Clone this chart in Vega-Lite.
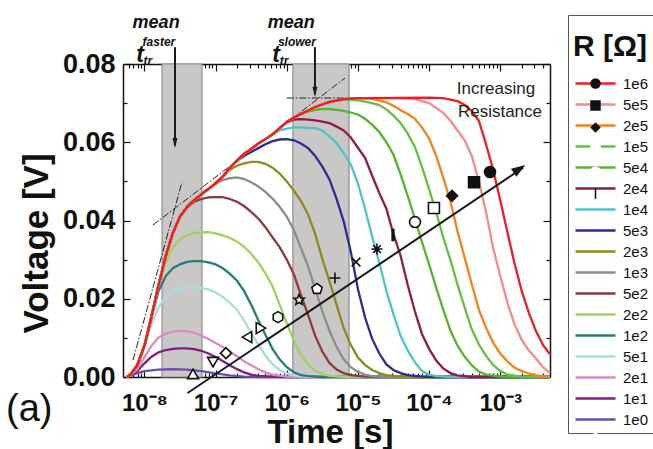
{
"$schema":"https://vega.github.io/schema/vega-lite/v6.json",
"width":427,"height":313,
"autosize":{"type":"none"},
"padding":{"left":123,"top":64,"right":103,"bottom":72},
"background":"white",
"config":{"view":{"stroke":null},"font":"Liberation Sans","axis":{"labelFont":"Liberation Sans","titleFont":"Liberation Sans"},"legend":{"labelFont":"Liberation Sans","titleFont":"Liberation Sans"}},
"title":{"text":"(a)","orient":"bottom","anchor":"start","frame":"group","font":"Liberation Sans","fontSize":38,"fontWeight":"normal","color":"#111","dx":-117,"dy":-58,"offset":0},
"datasets":{
"bands":[{"t0":1.77e-8,"t1":6.44e-8},{"t0":1.22e-6,"t1":7.5e-6}],
"tangents":[{"seg":"a","t":6.92e-9,"V":0.00435},{"seg":"a","t":3.37e-8,"V":0.0498},{"seg":"b","t":1.32e-8,"V":0.03885},{"seg":"b","t":6.58e-6,"V":0.0764},{"seg":"c","t":1.0e-6,"V":0.0713},{"seg":"c","t":7.45e-5,"V":0.0713}],
"curves":[
{"R":"1e0","t":5.62e-9,"V":0},{"R":"1e0","t":6.31e-9,"V":0.0004},{"R":"1e0","t":7.94e-9,"V":0.001},{"R":"1e0","t":1e-8,"V":0.0015},{"R":"1e0","t":1.58e-8,"V":0.0019},{"R":"1e0","t":2.51e-8,"V":0.002},{"R":"1e0","t":3.98e-8,"V":0.0019},{"R":"1e0","t":6.31e-8,"V":0.0015},{"R":"1e0","t":1e-7,"V":0.0009},{"R":"1e0","t":1.58e-7,"V":0.0004},{"R":"1e0","t":2.51e-7,"V":0.0001},{"R":"1e0","t":3.98e-7,"V":0},{"R":"1e0","t":5e-3,"V":0},
{"R":"1e1","t":5.62e-9,"V":0},{"R":"1e1","t":6.31e-9,"V":0.0003},{"R":"1e1","t":7.94e-9,"V":0.0015},{"R":"1e1","t":1e-8,"V":0.0035},{"R":"1e1","t":1.26e-8,"V":0.0052},{"R":"1e1","t":1.58e-8,"V":0.0063},{"R":"1e1","t":2e-8,"V":0.0069},{"R":"1e1","t":2.51e-8,"V":0.0072},{"R":"1e1","t":3.16e-8,"V":0.0073},{"R":"1e1","t":3.98e-8,"V":0.0073},{"R":"1e1","t":5.01e-8,"V":0.0071},{"R":"1e1","t":6.31e-8,"V":0.0067},{"R":"1e1","t":7.94e-8,"V":0.006},{"R":"1e1","t":1e-7,"V":0.0051},{"R":"1e1","t":1.26e-7,"V":0.0041},{"R":"1e1","t":1.58e-7,"V":0.003},{"R":"1e1","t":2e-7,"V":0.002},{"R":"1e1","t":2.51e-7,"V":0.0012},{"R":"1e1","t":3.16e-7,"V":0.0006},{"R":"1e1","t":3.98e-7,"V":0.0003},{"R":"1e1","t":6.31e-7,"V":0.0001},{"R":"1e1","t":1e-6,"V":0},{"R":"1e1","t":5e-3,"V":0},
{"R":"2e1","t":5.62e-9,"V":0},{"R":"2e1","t":6.31e-9,"V":0.0004},{"R":"2e1","t":7.94e-9,"V":0.002},{"R":"2e1","t":1e-8,"V":0.005},{"R":"2e1","t":1.26e-8,"V":0.008},{"R":"2e1","t":1.58e-8,"V":0.0101},{"R":"2e1","t":2e-8,"V":0.0111},{"R":"2e1","t":2.51e-8,"V":0.0116},{"R":"2e1","t":3.16e-8,"V":0.0118},{"R":"2e1","t":3.98e-8,"V":0.0117},{"R":"2e1","t":5.01e-8,"V":0.0113},{"R":"2e1","t":6.31e-8,"V":0.0106},{"R":"2e1","t":7.94e-8,"V":0.0097},{"R":"2e1","t":1e-7,"V":0.0087},{"R":"2e1","t":1.26e-7,"V":0.0077},{"R":"2e1","t":1.58e-7,"V":0.0065},{"R":"2e1","t":2e-7,"V":0.0053},{"R":"2e1","t":2.51e-7,"V":0.004},{"R":"2e1","t":3.16e-7,"V":0.003},{"R":"2e1","t":3.98e-7,"V":0.002},{"R":"2e1","t":5.01e-7,"V":0.0012},{"R":"2e1","t":6.31e-7,"V":0.0006},{"R":"2e1","t":1e-6,"V":0.0001},{"R":"2e1","t":1.58e-6,"V":0},{"R":"2e1","t":5e-3,"V":0},
{"R":"5e1","t":5.62e-9,"V":0},{"R":"5e1","t":6.31e-9,"V":0.0005},{"R":"5e1","t":7.94e-9,"V":0.003},{"R":"5e1","t":1e-8,"V":0.0078},{"R":"5e1","t":1.26e-8,"V":0.0135},{"R":"5e1","t":1.58e-8,"V":0.0178},{"R":"5e1","t":2e-8,"V":0.0204},{"R":"5e1","t":2.51e-8,"V":0.0218},{"R":"5e1","t":3.16e-8,"V":0.0225},{"R":"5e1","t":3.98e-8,"V":0.0229},{"R":"5e1","t":5.01e-8,"V":0.023},{"R":"5e1","t":6.31e-8,"V":0.0228},{"R":"5e1","t":7.94e-8,"V":0.0224},{"R":"5e1","t":1e-7,"V":0.0216},{"R":"5e1","t":1.26e-7,"V":0.0205},{"R":"5e1","t":1.58e-7,"V":0.019},{"R":"5e1","t":2e-7,"V":0.0172},{"R":"5e1","t":2.51e-7,"V":0.0145},{"R":"5e1","t":3.16e-7,"V":0.0112},{"R":"5e1","t":3.98e-7,"V":0.0083},{"R":"5e1","t":5.01e-7,"V":0.0055},{"R":"5e1","t":6.31e-7,"V":0.0033},{"R":"5e1","t":7.94e-7,"V":0.0018},{"R":"5e1","t":1e-6,"V":0.0009},{"R":"5e1","t":1.26e-6,"V":0.0004},{"R":"5e1","t":2e-6,"V":0},{"R":"5e1","t":5e-3,"V":0},
{"R":"1e2","t":5.62e-9,"V":0},{"R":"1e2","t":6.31e-9,"V":0.0005},{"R":"1e2","t":7.94e-9,"V":0.003},{"R":"1e2","t":1e-8,"V":0.008},{"R":"1e2","t":1.26e-8,"V":0.0155},{"R":"1e2","t":1.58e-8,"V":0.022},{"R":"1e2","t":2e-8,"V":0.0258},{"R":"1e2","t":2.51e-8,"V":0.0278},{"R":"1e2","t":3.16e-8,"V":0.0288},{"R":"1e2","t":3.98e-8,"V":0.0294},{"R":"1e2","t":5.01e-8,"V":0.0296},{"R":"1e2","t":6.31e-8,"V":0.0296},{"R":"1e2","t":7.94e-8,"V":0.0293},{"R":"1e2","t":1e-7,"V":0.0288},{"R":"1e2","t":1.26e-7,"V":0.0278},{"R":"1e2","t":1.58e-7,"V":0.0264},{"R":"1e2","t":2e-7,"V":0.0246},{"R":"1e2","t":2.51e-7,"V":0.022},{"R":"1e2","t":3.16e-7,"V":0.0185},{"R":"1e2","t":3.98e-7,"V":0.0145},{"R":"1e2","t":5.01e-7,"V":0.0108},{"R":"1e2","t":6.31e-7,"V":0.0072},{"R":"1e2","t":7.94e-7,"V":0.0045},{"R":"1e2","t":1e-6,"V":0.0025},{"R":"1e2","t":1.26e-6,"V":0.0012},{"R":"1e2","t":1.58e-6,"V":0.0005},{"R":"1e2","t":2e-6,"V":0.0002},{"R":"1e2","t":3.16e-6,"V":0},{"R":"1e2","t":5e-3,"V":0},
{"R":"2e2","t":5.62e-9,"V":0},{"R":"2e2","t":6.31e-9,"V":0.0005},{"R":"2e2","t":7.94e-9,"V":0.003},{"R":"2e2","t":1e-8,"V":0.008},{"R":"2e2","t":1.26e-8,"V":0.0155},{"R":"2e2","t":1.58e-8,"V":0.0235},{"R":"2e2","t":2e-8,"V":0.0295},{"R":"2e2","t":2.51e-8,"V":0.0332},{"R":"2e2","t":3.16e-8,"V":0.0352},{"R":"2e2","t":3.98e-8,"V":0.0363},{"R":"2e2","t":5.01e-8,"V":0.0368},{"R":"2e2","t":6.31e-8,"V":0.037},{"R":"2e2","t":7.94e-8,"V":0.037},{"R":"2e2","t":1e-7,"V":0.0367},{"R":"2e2","t":1.26e-7,"V":0.0362},{"R":"2e2","t":1.58e-7,"V":0.0356},{"R":"2e2","t":2e-7,"V":0.0346},{"R":"2e2","t":2.51e-7,"V":0.0333},{"R":"2e2","t":3.16e-7,"V":0.0315},{"R":"2e2","t":3.98e-7,"V":0.0293},{"R":"2e2","t":5.01e-7,"V":0.0265},{"R":"2e2","t":6.31e-7,"V":0.0232},{"R":"2e2","t":7.94e-7,"V":0.0185},{"R":"2e2","t":1e-6,"V":0.0138},{"R":"2e2","t":1.26e-6,"V":0.0093},{"R":"2e2","t":1.58e-6,"V":0.0057},{"R":"2e2","t":2e-6,"V":0.0032},{"R":"2e2","t":2.51e-6,"V":0.0016},{"R":"2e2","t":3.16e-6,"V":0.0008},{"R":"2e2","t":3.98e-6,"V":0.0003},{"R":"2e2","t":6.31e-6,"V":0},{"R":"2e2","t":5e-3,"V":0},
{"R":"5e2","t":5.62e-9,"V":0},{"R":"5e2","t":6.31e-9,"V":0.0005},{"R":"5e2","t":7.94e-9,"V":0.003},{"R":"5e2","t":1e-8,"V":0.008},{"R":"5e2","t":1.26e-8,"V":0.0155},{"R":"5e2","t":1.58e-8,"V":0.0235},{"R":"5e2","t":2e-8,"V":0.031},{"R":"5e2","t":2.51e-8,"V":0.0368},{"R":"5e2","t":3.16e-8,"V":0.041},{"R":"5e2","t":3.98e-8,"V":0.0433},{"R":"5e2","t":5.01e-8,"V":0.0448},{"R":"5e2","t":6.31e-8,"V":0.0455},{"R":"5e2","t":7.94e-8,"V":0.0459},{"R":"5e2","t":1e-7,"V":0.046},{"R":"5e2","t":1.26e-7,"V":0.046},{"R":"5e2","t":1.58e-7,"V":0.0455},{"R":"5e2","t":2e-7,"V":0.0448},{"R":"5e2","t":2.51e-7,"V":0.0437},{"R":"5e2","t":3.16e-7,"V":0.0422},{"R":"5e2","t":3.98e-7,"V":0.0405},{"R":"5e2","t":5.01e-7,"V":0.0383},{"R":"5e2","t":6.31e-7,"V":0.0357},{"R":"5e2","t":7.94e-7,"V":0.0332},{"R":"5e2","t":1e-6,"V":0.03},{"R":"5e2","t":1.26e-6,"V":0.0262},{"R":"5e2","t":1.58e-6,"V":0.021},{"R":"5e2","t":2e-6,"V":0.0158},{"R":"5e2","t":2.51e-6,"V":0.0105},{"R":"5e2","t":3.16e-6,"V":0.0065},{"R":"5e2","t":3.98e-6,"V":0.0036},{"R":"5e2","t":5.01e-6,"V":0.0019},{"R":"5e2","t":6.31e-6,"V":0.001},{"R":"5e2","t":7.94e-6,"V":0.0005},{"R":"5e2","t":1.26e-5,"V":0.0001},{"R":"5e2","t":2e-5,"V":0},{"R":"5e2","t":5e-3,"V":0},
{"R":"1e3","t":5.62e-9,"V":0},{"R":"1e3","t":6.31e-9,"V":0.0005},{"R":"1e3","t":7.94e-9,"V":0.003},{"R":"1e3","t":1e-8,"V":0.008},{"R":"1e3","t":1.26e-8,"V":0.0155},{"R":"1e3","t":1.58e-8,"V":0.0235},{"R":"1e3","t":2e-8,"V":0.031},{"R":"1e3","t":2.51e-8,"V":0.0368},{"R":"1e3","t":3.16e-8,"V":0.041},{"R":"1e3","t":3.98e-8,"V":0.0435},{"R":"1e3","t":5.01e-8,"V":0.0452},{"R":"1e3","t":6.31e-8,"V":0.0467},{"R":"1e3","t":7.94e-8,"V":0.0481},{"R":"1e3","t":1e-7,"V":0.0495},{"R":"1e3","t":1.26e-7,"V":0.0503},{"R":"1e3","t":1.58e-7,"V":0.0508},{"R":"1e3","t":2e-7,"V":0.051},{"R":"1e3","t":2.51e-7,"V":0.0506},{"R":"1e3","t":3.16e-7,"V":0.0498},{"R":"1e3","t":3.98e-7,"V":0.0487},{"R":"1e3","t":5.01e-7,"V":0.0473},{"R":"1e3","t":6.31e-7,"V":0.0456},{"R":"1e3","t":7.94e-7,"V":0.0435},{"R":"1e3","t":1e-6,"V":0.041},{"R":"1e3","t":1.26e-6,"V":0.0375},{"R":"1e3","t":1.58e-6,"V":0.033},{"R":"1e3","t":2e-6,"V":0.0282},{"R":"1e3","t":2.51e-6,"V":0.0225},{"R":"1e3","t":3.16e-6,"V":0.0168},{"R":"1e3","t":3.98e-6,"V":0.0118},{"R":"1e3","t":5.01e-6,"V":0.0077},{"R":"1e3","t":6.31e-6,"V":0.0045},{"R":"1e3","t":7.94e-6,"V":0.0025},{"R":"1e3","t":1e-5,"V":0.0013},{"R":"1e3","t":1.26e-5,"V":0.0006},{"R":"1e3","t":1.58e-5,"V":0.0002},{"R":"1e3","t":2.51e-5,"V":0},{"R":"1e3","t":5e-3,"V":0},
{"R":"2e3","t":5.62e-9,"V":0},{"R":"2e3","t":6.31e-9,"V":0.0005},{"R":"2e3","t":7.94e-9,"V":0.003},{"R":"2e3","t":1e-8,"V":0.008},{"R":"2e3","t":1.26e-8,"V":0.0155},{"R":"2e3","t":1.58e-8,"V":0.0235},{"R":"2e3","t":2e-8,"V":0.031},{"R":"2e3","t":2.51e-8,"V":0.0368},{"R":"2e3","t":3.16e-8,"V":0.041},{"R":"2e3","t":3.98e-8,"V":0.0435},{"R":"2e3","t":5.01e-8,"V":0.0452},{"R":"2e3","t":6.31e-8,"V":0.0467},{"R":"2e3","t":7.94e-8,"V":0.0481},{"R":"2e3","t":1e-7,"V":0.0495},{"R":"2e3","t":1.26e-7,"V":0.0512},{"R":"2e3","t":1.58e-7,"V":0.053},{"R":"2e3","t":2e-7,"V":0.054},{"R":"2e3","t":2.51e-7,"V":0.0546},{"R":"2e3","t":3.16e-7,"V":0.055},{"R":"2e3","t":3.98e-7,"V":0.055},{"R":"2e3","t":5.01e-7,"V":0.0545},{"R":"2e3","t":6.31e-7,"V":0.0535},{"R":"2e3","t":7.94e-7,"V":0.052},{"R":"2e3","t":1e-6,"V":0.05},{"R":"2e3","t":1.26e-6,"V":0.0476},{"R":"2e3","t":1.58e-6,"V":0.045},{"R":"2e3","t":2e-6,"V":0.0415},{"R":"2e3","t":2.51e-6,"V":0.0365},{"R":"2e3","t":3.16e-6,"V":0.0302},{"R":"2e3","t":3.98e-6,"V":0.0245},{"R":"2e3","t":5.01e-6,"V":0.0185},{"R":"2e3","t":6.31e-6,"V":0.0125},{"R":"2e3","t":7.94e-6,"V":0.0082},{"R":"2e3","t":1e-5,"V":0.005},{"R":"2e3","t":1.26e-5,"V":0.0031},{"R":"2e3","t":1.58e-5,"V":0.0018},{"R":"2e3","t":2e-5,"V":0.001},{"R":"2e3","t":2.51e-5,"V":0.0005},{"R":"2e3","t":3.98e-5,"V":0.0001},{"R":"2e3","t":6.31e-5,"V":0},{"R":"2e3","t":5e-3,"V":0},
{"R":"5e3","t":5.62e-9,"V":0},{"R":"5e3","t":6.31e-9,"V":0.0005},{"R":"5e3","t":7.94e-9,"V":0.003},{"R":"5e3","t":1e-8,"V":0.008},{"R":"5e3","t":1.26e-8,"V":0.0155},{"R":"5e3","t":1.58e-8,"V":0.0235},{"R":"5e3","t":2e-8,"V":0.031},{"R":"5e3","t":2.51e-8,"V":0.0368},{"R":"5e3","t":3.16e-8,"V":0.041},{"R":"5e3","t":3.98e-8,"V":0.0435},{"R":"5e3","t":5.01e-8,"V":0.0452},{"R":"5e3","t":6.31e-8,"V":0.0467},{"R":"5e3","t":7.94e-8,"V":0.0481},{"R":"5e3","t":1e-7,"V":0.0495},{"R":"5e3","t":1.26e-7,"V":0.0512},{"R":"5e3","t":1.58e-7,"V":0.0535},{"R":"5e3","t":2e-7,"V":0.0553},{"R":"5e3","t":2.51e-7,"V":0.0565},{"R":"5e3","t":3.16e-7,"V":0.0575},{"R":"5e3","t":3.98e-7,"V":0.0585},{"R":"5e3","t":5.01e-7,"V":0.0595},{"R":"5e3","t":6.31e-7,"V":0.0603},{"R":"5e3","t":7.94e-7,"V":0.0607},{"R":"5e3","t":1e-6,"V":0.0608},{"R":"5e3","t":1.26e-6,"V":0.0605},{"R":"5e3","t":1.58e-6,"V":0.0597},{"R":"5e3","t":2e-6,"V":0.0585},{"R":"5e3","t":2.51e-6,"V":0.0565},{"R":"5e3","t":3.16e-6,"V":0.0538},{"R":"5e3","t":3.98e-6,"V":0.0505},{"R":"5e3","t":5.01e-6,"V":0.0455},{"R":"5e3","t":6.31e-6,"V":0.0398},{"R":"5e3","t":7.94e-6,"V":0.032},{"R":"5e3","t":1e-5,"V":0.0225},{"R":"5e3","t":1.26e-5,"V":0.0152},{"R":"5e3","t":1.58e-5,"V":0.0098},{"R":"5e3","t":2e-5,"V":0.006},{"R":"5e3","t":2.51e-5,"V":0.0032},{"R":"5e3","t":3.16e-5,"V":0.0018},{"R":"5e3","t":3.98e-5,"V":0.001},{"R":"5e3","t":5.01e-5,"V":0.0005},{"R":"5e3","t":7.94e-5,"V":0.0001},{"R":"5e3","t":1.26e-4,"V":0},{"R":"5e3","t":5e-3,"V":0},
{"R":"1e4","t":5.62e-9,"V":0},{"R":"1e4","t":6.31e-9,"V":0.0005},{"R":"1e4","t":7.94e-9,"V":0.003},{"R":"1e4","t":1e-8,"V":0.008},{"R":"1e4","t":1.26e-8,"V":0.0155},{"R":"1e4","t":1.58e-8,"V":0.0235},{"R":"1e4","t":2e-8,"V":0.031},{"R":"1e4","t":2.51e-8,"V":0.0368},{"R":"1e4","t":3.16e-8,"V":0.041},{"R":"1e4","t":3.98e-8,"V":0.0435},{"R":"1e4","t":5.01e-8,"V":0.0452},{"R":"1e4","t":6.31e-8,"V":0.0467},{"R":"1e4","t":7.94e-8,"V":0.0481},{"R":"1e4","t":1e-7,"V":0.0495},{"R":"1e4","t":1.26e-7,"V":0.0512},{"R":"1e4","t":1.58e-7,"V":0.0535},{"R":"1e4","t":2e-7,"V":0.0553},{"R":"1e4","t":2.51e-7,"V":0.057},{"R":"1e4","t":3.16e-7,"V":0.0583},{"R":"1e4","t":3.98e-7,"V":0.0597},{"R":"1e4","t":5.01e-7,"V":0.0608},{"R":"1e4","t":6.31e-7,"V":0.062},{"R":"1e4","t":7.94e-7,"V":0.063},{"R":"1e4","t":1e-6,"V":0.0635},{"R":"1e4","t":1.26e-6,"V":0.0638},{"R":"1e4","t":1.58e-6,"V":0.0638},{"R":"1e4","t":2e-6,"V":0.0637},{"R":"1e4","t":2.51e-6,"V":0.0636},{"R":"1e4","t":3.16e-6,"V":0.063},{"R":"1e4","t":3.98e-6,"V":0.0615},{"R":"1e4","t":5.01e-6,"V":0.0598},{"R":"1e4","t":6.31e-6,"V":0.0572},{"R":"1e4","t":7.94e-6,"V":0.0543},{"R":"1e4","t":1e-5,"V":0.0495},{"R":"1e4","t":1.26e-5,"V":0.043},{"R":"1e4","t":1.58e-5,"V":0.036},{"R":"1e4","t":2e-5,"V":0.0292},{"R":"1e4","t":2.51e-5,"V":0.022},{"R":"1e4","t":3.16e-5,"V":0.016},{"R":"1e4","t":3.98e-5,"V":0.0105},{"R":"1e4","t":5.01e-5,"V":0.0068},{"R":"1e4","t":6.31e-5,"V":0.0038},{"R":"1e4","t":7.94e-5,"V":0.0015},{"R":"1e4","t":1e-4,"V":0.0006},{"R":"1e4","t":1.26e-4,"V":0.0002},{"R":"1e4","t":2e-4,"V":0},{"R":"1e4","t":5e-3,"V":0},
{"R":"2e4","t":5.62e-9,"V":0},{"R":"2e4","t":6.31e-9,"V":0.0005},{"R":"2e4","t":7.94e-9,"V":0.003},{"R":"2e4","t":1e-8,"V":0.008},{"R":"2e4","t":1.26e-8,"V":0.0155},{"R":"2e4","t":1.58e-8,"V":0.0235},{"R":"2e4","t":2e-8,"V":0.031},{"R":"2e4","t":2.51e-8,"V":0.0368},{"R":"2e4","t":3.16e-8,"V":0.041},{"R":"2e4","t":3.98e-8,"V":0.0435},{"R":"2e4","t":5.01e-8,"V":0.0452},{"R":"2e4","t":6.31e-8,"V":0.0467},{"R":"2e4","t":7.94e-8,"V":0.0481},{"R":"2e4","t":1e-7,"V":0.0495},{"R":"2e4","t":1.26e-7,"V":0.0512},{"R":"2e4","t":1.58e-7,"V":0.0535},{"R":"2e4","t":2e-7,"V":0.0553},{"R":"2e4","t":2.51e-7,"V":0.057},{"R":"2e4","t":3.16e-7,"V":0.0583},{"R":"2e4","t":3.98e-7,"V":0.0597},{"R":"2e4","t":5.01e-7,"V":0.0608},{"R":"2e4","t":6.31e-7,"V":0.062},{"R":"2e4","t":7.94e-7,"V":0.0636},{"R":"2e4","t":1e-6,"V":0.065},{"R":"2e4","t":1.26e-6,"V":0.0658},{"R":"2e4","t":1.58e-6,"V":0.0659},{"R":"2e4","t":2e-6,"V":0.0658},{"R":"2e4","t":2.51e-6,"V":0.0656},{"R":"2e4","t":3.16e-6,"V":0.0653},{"R":"2e4","t":3.98e-6,"V":0.0649},{"R":"2e4","t":5.01e-6,"V":0.064},{"R":"2e4","t":6.31e-6,"V":0.063},{"R":"2e4","t":7.94e-6,"V":0.0612},{"R":"2e4","t":1e-5,"V":0.0586},{"R":"2e4","t":1.26e-5,"V":0.056},{"R":"2e4","t":1.58e-5,"V":0.0515},{"R":"2e4","t":2e-5,"V":0.047},{"R":"2e4","t":2.51e-5,"V":0.043},{"R":"2e4","t":3.16e-5,"V":0.0365},{"R":"2e4","t":3.98e-5,"V":0.031},{"R":"2e4","t":5.01e-5,"V":0.0235},{"R":"2e4","t":6.31e-5,"V":0.0168},{"R":"2e4","t":7.94e-5,"V":0.011},{"R":"2e4","t":1e-4,"V":0.0072},{"R":"2e4","t":1.26e-4,"V":0.0042},{"R":"2e4","t":1.58e-4,"V":0.0022},{"R":"2e4","t":2e-4,"V":0.001},{"R":"2e4","t":2.51e-4,"V":0.0004},{"R":"2e4","t":3.98e-4,"V":0},{"R":"2e4","t":5e-3,"V":0},
{"R":"5e4","t":5.62e-9,"V":0},{"R":"5e4","t":6.31e-9,"V":0.0005},{"R":"5e4","t":7.94e-9,"V":0.003},{"R":"5e4","t":1e-8,"V":0.008},{"R":"5e4","t":1.26e-8,"V":0.0155},{"R":"5e4","t":1.58e-8,"V":0.0235},{"R":"5e4","t":2e-8,"V":0.031},{"R":"5e4","t":2.51e-8,"V":0.0368},{"R":"5e4","t":3.16e-8,"V":0.041},{"R":"5e4","t":3.98e-8,"V":0.0435},{"R":"5e4","t":5.01e-8,"V":0.0452},{"R":"5e4","t":6.31e-8,"V":0.0467},{"R":"5e4","t":7.94e-8,"V":0.0481},{"R":"5e4","t":1e-7,"V":0.0495},{"R":"5e4","t":1.26e-7,"V":0.0512},{"R":"5e4","t":1.58e-7,"V":0.0535},{"R":"5e4","t":2e-7,"V":0.0553},{"R":"5e4","t":2.51e-7,"V":0.057},{"R":"5e4","t":3.16e-7,"V":0.0583},{"R":"5e4","t":3.98e-7,"V":0.0597},{"R":"5e4","t":5.01e-7,"V":0.0608},{"R":"5e4","t":6.31e-7,"V":0.062},{"R":"5e4","t":7.94e-7,"V":0.0636},{"R":"5e4","t":1e-6,"V":0.0652},{"R":"5e4","t":1.26e-6,"V":0.0663},{"R":"5e4","t":1.58e-6,"V":0.0672},{"R":"5e4","t":2e-6,"V":0.0678},{"R":"5e4","t":2.51e-6,"V":0.0683},{"R":"5e4","t":3.16e-6,"V":0.0685},{"R":"5e4","t":3.98e-6,"V":0.0685},{"R":"5e4","t":5.01e-6,"V":0.0683},{"R":"5e4","t":6.31e-6,"V":0.068},{"R":"5e4","t":7.94e-6,"V":0.0676},{"R":"5e4","t":1e-5,"V":0.0671},{"R":"5e4","t":1.26e-5,"V":0.066},{"R":"5e4","t":1.58e-5,"V":0.0645},{"R":"5e4","t":2e-5,"V":0.0626},{"R":"5e4","t":2.51e-5,"V":0.06},{"R":"5e4","t":3.16e-5,"V":0.0568},{"R":"5e4","t":3.98e-5,"V":0.0518},{"R":"5e4","t":5.01e-5,"V":0.0463},{"R":"5e4","t":6.31e-5,"V":0.0405},{"R":"5e4","t":7.94e-5,"V":0.0345},{"R":"5e4","t":1e-4,"V":0.0288},{"R":"5e4","t":1.26e-4,"V":0.0228},{"R":"5e4","t":1.58e-4,"V":0.0172},{"R":"5e4","t":2e-4,"V":0.0118},{"R":"5e4","t":2.51e-4,"V":0.008},{"R":"5e4","t":3.16e-4,"V":0.0052},{"R":"5e4","t":3.98e-4,"V":0.003},{"R":"5e4","t":5.01e-4,"V":0.0014},{"R":"5e4","t":6.31e-4,"V":0.0006},{"R":"5e4","t":1e-3,"V":0.0001},{"R":"5e4","t":1.58e-3,"V":0},{"R":"5e4","t":5e-3,"V":0},
{"R":"1e5","t":5.62e-9,"V":0},{"R":"1e5","t":6.31e-9,"V":0.0005},{"R":"1e5","t":7.94e-9,"V":0.003},{"R":"1e5","t":1e-8,"V":0.008},{"R":"1e5","t":1.26e-8,"V":0.0155},{"R":"1e5","t":1.58e-8,"V":0.0235},{"R":"1e5","t":2e-8,"V":0.031},{"R":"1e5","t":2.51e-8,"V":0.0368},{"R":"1e5","t":3.16e-8,"V":0.041},{"R":"1e5","t":3.98e-8,"V":0.0435},{"R":"1e5","t":5.01e-8,"V":0.0452},{"R":"1e5","t":6.31e-8,"V":0.0467},{"R":"1e5","t":7.94e-8,"V":0.0481},{"R":"1e5","t":1e-7,"V":0.0495},{"R":"1e5","t":1.26e-7,"V":0.0512},{"R":"1e5","t":1.58e-7,"V":0.0535},{"R":"1e5","t":2e-7,"V":0.0553},{"R":"1e5","t":2.51e-7,"V":0.057},{"R":"1e5","t":3.16e-7,"V":0.0583},{"R":"1e5","t":3.98e-7,"V":0.0597},{"R":"1e5","t":5.01e-7,"V":0.0608},{"R":"1e5","t":6.31e-7,"V":0.062},{"R":"1e5","t":7.94e-7,"V":0.0636},{"R":"1e5","t":1e-6,"V":0.0652},{"R":"1e5","t":1.26e-6,"V":0.0663},{"R":"1e5","t":1.58e-6,"V":0.0672},{"R":"1e5","t":2.51e-6,"V":0.069},{"R":"1e5","t":3.98e-6,"V":0.0703},{"R":"1e5","t":6.31e-6,"V":0.0709},{"R":"1e5","t":1e-5,"V":0.0707},{"R":"1e5","t":1.26e-5,"V":0.0704},{"R":"1e5","t":1.58e-5,"V":0.07},{"R":"1e5","t":2e-5,"V":0.0695},{"R":"1e5","t":2.51e-5,"V":0.0684},{"R":"1e5","t":3.16e-5,"V":0.0668},{"R":"1e5","t":3.98e-5,"V":0.0649},{"R":"1e5","t":5.01e-5,"V":0.0622},{"R":"1e5","t":6.31e-5,"V":0.0588},{"R":"1e5","t":7.94e-5,"V":0.0537},{"R":"1e5","t":1e-4,"V":0.048},{"R":"1e5","t":1.26e-4,"V":0.042},{"R":"1e5","t":1.58e-4,"V":0.0357},{"R":"1e5","t":2e-4,"V":0.0298},{"R":"1e5","t":2.51e-4,"V":0.0236},{"R":"1e5","t":3.16e-4,"V":0.0178},{"R":"1e5","t":3.98e-4,"V":0.0122},{"R":"1e5","t":5.01e-4,"V":0.0083},{"R":"1e5","t":6.31e-4,"V":0.0054},{"R":"1e5","t":7.94e-4,"V":0.0031},{"R":"1e5","t":1e-3,"V":0.0015},{"R":"1e5","t":1.26e-3,"V":0.0006},{"R":"1e5","t":2e-3,"V":0.0001},{"R":"1e5","t":3.16e-3,"V":0},{"R":"1e5","t":5e-3,"V":0},
{"R":"2e5","t":5.62e-9,"V":0},{"R":"2e5","t":6.31e-9,"V":0.0005},{"R":"2e5","t":7.94e-9,"V":0.003},{"R":"2e5","t":1e-8,"V":0.008},{"R":"2e5","t":1.26e-8,"V":0.0155},{"R":"2e5","t":1.58e-8,"V":0.0235},{"R":"2e5","t":2e-8,"V":0.031},{"R":"2e5","t":2.51e-8,"V":0.0368},{"R":"2e5","t":3.16e-8,"V":0.041},{"R":"2e5","t":3.98e-8,"V":0.0435},{"R":"2e5","t":5.01e-8,"V":0.0452},{"R":"2e5","t":6.31e-8,"V":0.0467},{"R":"2e5","t":7.94e-8,"V":0.0481},{"R":"2e5","t":1e-7,"V":0.0495},{"R":"2e5","t":1.26e-7,"V":0.0512},{"R":"2e5","t":1.58e-7,"V":0.0535},{"R":"2e5","t":2e-7,"V":0.0553},{"R":"2e5","t":2.51e-7,"V":0.057},{"R":"2e5","t":3.16e-7,"V":0.0583},{"R":"2e5","t":3.98e-7,"V":0.0597},{"R":"2e5","t":5.01e-7,"V":0.0608},{"R":"2e5","t":6.31e-7,"V":0.062},{"R":"2e5","t":7.94e-7,"V":0.0636},{"R":"2e5","t":1e-6,"V":0.0652},{"R":"2e5","t":1.26e-6,"V":0.0663},{"R":"2e5","t":1.58e-6,"V":0.0672},{"R":"2e5","t":2.51e-6,"V":0.069},{"R":"2e5","t":3.98e-6,"V":0.0703},{"R":"2e5","t":6.31e-6,"V":0.071},{"R":"2e5","t":1e-5,"V":0.0713},{"R":"2e5","t":1.58e-5,"V":0.0711},{"R":"2e5","t":2.51e-5,"V":0.0702},{"R":"2e5","t":3.16e-5,"V":0.0693},{"R":"2e5","t":3.98e-5,"V":0.0682},{"R":"2e5","t":5.01e-5,"V":0.0672},{"R":"2e5","t":6.31e-5,"V":0.066},{"R":"2e5","t":7.94e-5,"V":0.0638},{"R":"2e5","t":1e-4,"V":0.061},{"R":"2e5","t":1.26e-4,"V":0.0565},{"R":"2e5","t":1.58e-4,"V":0.051},{"R":"2e5","t":2e-4,"V":0.0448},{"R":"2e5","t":2.51e-4,"V":0.0372},{"R":"2e5","t":3.16e-4,"V":0.0305},{"R":"2e5","t":3.98e-4,"V":0.0237},{"R":"2e5","t":5.01e-4,"V":0.0172},{"R":"2e5","t":6.31e-4,"V":0.0126},{"R":"2e5","t":7.94e-4,"V":0.0088},{"R":"2e5","t":1e-3,"V":0.006},{"R":"2e5","t":1.26e-3,"V":0.004},{"R":"2e5","t":1.58e-3,"V":0.0024},{"R":"2e5","t":2e-3,"V":0.0015},{"R":"2e5","t":2.51e-3,"V":0.0009},{"R":"2e5","t":3.16e-3,"V":0.0004},{"R":"2e5","t":5e-3,"V":0.0001},
{"R":"5e5","t":5.62e-9,"V":0},{"R":"5e5","t":6.31e-9,"V":0.0005},{"R":"5e5","t":7.94e-9,"V":0.003},{"R":"5e5","t":1e-8,"V":0.008},{"R":"5e5","t":1.26e-8,"V":0.0155},{"R":"5e5","t":1.58e-8,"V":0.0235},{"R":"5e5","t":2e-8,"V":0.031},{"R":"5e5","t":2.51e-8,"V":0.0368},{"R":"5e5","t":3.16e-8,"V":0.041},{"R":"5e5","t":3.98e-8,"V":0.0435},{"R":"5e5","t":5.01e-8,"V":0.0452},{"R":"5e5","t":6.31e-8,"V":0.0467},{"R":"5e5","t":7.94e-8,"V":0.0481},{"R":"5e5","t":1e-7,"V":0.0495},{"R":"5e5","t":1.26e-7,"V":0.0512},{"R":"5e5","t":1.58e-7,"V":0.0535},{"R":"5e5","t":2e-7,"V":0.0553},{"R":"5e5","t":2.51e-7,"V":0.057},{"R":"5e5","t":3.16e-7,"V":0.0583},{"R":"5e5","t":3.98e-7,"V":0.0597},{"R":"5e5","t":5.01e-7,"V":0.0608},{"R":"5e5","t":6.31e-7,"V":0.062},{"R":"5e5","t":7.94e-7,"V":0.0636},{"R":"5e5","t":1e-6,"V":0.0652},{"R":"5e5","t":1.26e-6,"V":0.0663},{"R":"5e5","t":1.58e-6,"V":0.0672},{"R":"5e5","t":2.51e-6,"V":0.069},{"R":"5e5","t":3.98e-6,"V":0.0703},{"R":"5e5","t":6.31e-6,"V":0.071},{"R":"5e5","t":1e-5,"V":0.0713},{"R":"5e5","t":3.16e-5,"V":0.0713},{"R":"5e5","t":6.31e-5,"V":0.071},{"R":"5e5","t":1e-4,"V":0.07},{"R":"5e5","t":1.58e-4,"V":0.0675},{"R":"5e5","t":2e-4,"V":0.0655},{"R":"5e5","t":2.51e-4,"V":0.063},{"R":"5e5","t":3.16e-4,"V":0.0605},{"R":"5e5","t":3.98e-4,"V":0.0565},{"R":"5e5","t":5.01e-4,"V":0.05},{"R":"5e5","t":6.31e-4,"V":0.0422},{"R":"5e5","t":7.94e-4,"V":0.033},{"R":"5e5","t":1e-3,"V":0.0258},{"R":"5e5","t":1.26e-3,"V":0.019},{"R":"5e5","t":1.58e-3,"V":0.0135},{"R":"5e5","t":2e-3,"V":0.0095},{"R":"5e5","t":2.51e-3,"V":0.0068},{"R":"5e5","t":3.16e-3,"V":0.0048},{"R":"5e5","t":3.98e-3,"V":0.0025},{"R":"5e5","t":5e-3,"V":0.001},
{"R":"1e6","t":5.62e-9,"V":0},{"R":"1e6","t":6.31e-9,"V":0.0005},{"R":"1e6","t":7.94e-9,"V":0.003},{"R":"1e6","t":1e-8,"V":0.008},{"R":"1e6","t":1.26e-8,"V":0.0155},{"R":"1e6","t":1.58e-8,"V":0.0235},{"R":"1e6","t":2e-8,"V":0.031},{"R":"1e6","t":2.51e-8,"V":0.0368},{"R":"1e6","t":3.16e-8,"V":0.041},{"R":"1e6","t":3.98e-8,"V":0.0435},{"R":"1e6","t":5.01e-8,"V":0.0452},{"R":"1e6","t":6.31e-8,"V":0.0467},{"R":"1e6","t":7.94e-8,"V":0.0481},{"R":"1e6","t":1e-7,"V":0.0495},{"R":"1e6","t":1.26e-7,"V":0.0512},{"R":"1e6","t":1.58e-7,"V":0.0535},{"R":"1e6","t":2e-7,"V":0.0553},{"R":"1e6","t":2.51e-7,"V":0.057},{"R":"1e6","t":3.16e-7,"V":0.0583},{"R":"1e6","t":3.98e-7,"V":0.0597},{"R":"1e6","t":5.01e-7,"V":0.0608},{"R":"1e6","t":6.31e-7,"V":0.062},{"R":"1e6","t":7.94e-7,"V":0.0636},{"R":"1e6","t":1e-6,"V":0.0652},{"R":"1e6","t":1.26e-6,"V":0.0663},{"R":"1e6","t":1.58e-6,"V":0.0672},{"R":"1e6","t":2.51e-6,"V":0.069},{"R":"1e6","t":3.98e-6,"V":0.0703},{"R":"1e6","t":6.31e-6,"V":0.071},{"R":"1e6","t":1e-5,"V":0.0713},{"R":"1e6","t":1e-4,"V":0.0714},{"R":"1e6","t":1.58e-4,"V":0.0713},{"R":"1e6","t":2.51e-4,"V":0.0705},{"R":"1e6","t":3.16e-4,"V":0.0695},{"R":"1e6","t":3.98e-4,"V":0.068},{"R":"1e6","t":5.01e-4,"V":0.0655},{"R":"1e6","t":6.31e-4,"V":0.0595},{"R":"1e6","t":7.94e-4,"V":0.053},{"R":"1e6","t":1e-3,"V":0.0452},{"R":"1e6","t":1.26e-3,"V":0.037},{"R":"1e6","t":1.58e-3,"V":0.0292},{"R":"1e6","t":2e-3,"V":0.022},{"R":"1e6","t":2.51e-3,"V":0.0165},{"R":"1e6","t":3.16e-3,"V":0.0118},{"R":"1e6","t":3.98e-3,"V":0.0082},{"R":"1e6","t":5e-3,"V":0.0058}
],
"markers":[{"R":"1e6","t":7.18e-4,"V":0.0524},{"R":"5e5","t":4.28e-4,"V":0.0498},{"R":"2e5","t":2.1e-4,"V":0.0463},{"R":"1e5","t":1.17e-4,"V":0.0432},{"R":"5e4","t":6.34e-5,"V":0.0396},{"R":"2e4","t":3.11e-5,"V":0.0363},{"R":"1e4","t":1.85e-5,"V":0.0327},{"R":"5e3","t":9.4e-6,"V":0.0294},{"R":"2e3","t":4.76e-6,"V":0.0253},{"R":"1e3","t":2.66e-6,"V":0.0225},{"R":"5e2","t":1.49e-6,"V":0.0197},{"R":"2e2","t":7.53e-7,"V":0.0153},{"R":"1e2","t":4.34e-7,"V":0.0125},{"R":"5e1","t":2.76e-7,"V":0.0102},{"R":"2e1","t":1.4e-7,"V":0.0061},{"R":"1e1","t":9.2e-8,"V":0.0038},{"R":"1e0","t":4.82e-8,"V":0.0008}],
"arrows":[{"id":"a1","t":2.69e-8,"V":0.0843},{"id":"a1","t":2.69e-8,"V":0.0592},{"id":"a2","t":2.49e-6,"V":0.0843},{"id":"a2","t":2.49e-6,"V":0.0722},{"id":"d","t":4.04e-8,"V":-0.0041},{"id":"d","t":2.1e-3,"V":0.0535}],
"headsV":[{"t":2.69e-8,"V":0.0585},{"t":2.49e-6,"V":0.0716}],
"headD":[{"t":2.25e-3,"V":0.0542}],
"mean":[{"s":"mean","t":1.46e-8,"V":0.0892},{"s":"mean","t":1.16e-6,"V":0.0892}],
"tt":[{"s":"t","t":8.67e-9,"V":0.0806},{"s":"t","t":7.06e-7,"V":0.0806}],
"small":[{"s":"tr","t":1.12e-8,"V":0.0797},{"s":"faster","t":1.6e-8,"V":0.0846},{"s":"tr","t":9.14e-7,"V":0.0797},{"s":"slower","t":1.39e-6,"V":0.0846}],
"note":[{"s":"Increasing","t":8.7e-4,"V":0.0723},{"s":"Resistance","t":9.9e-4,"V":0.0665}]
},
"layer":[
{"data":{"name":"bands"},"mark":{"type":"rect","fill":"#cac7c7","stroke":"#8d8d8d","strokeWidth":1.2},
 "encoding":{"x":{"field":"t0","type":"quantitative","scale":{"type":"log","domain":[5e-9,5e-3],"nice":false},"axis":null},"x2":{"field":"t1"}}},
{"data":{"name":"tangents"},"mark":{"type":"line","stroke":"#222","strokeWidth":1,"strokeDash":[7,2,1.5,2]},
 "encoding":{
  "x":{"field":"t","type":"quantitative","scale":{"type":"log","domain":[5e-9,5e-3],"nice":false},
   "axis":{"orient":"top","values":[6e-9,7e-9,8e-9,9e-9,1e-8,2e-8,3e-8,4e-8,5e-8,6e-8,7e-8,8e-8,9e-8,1e-7,2e-7,3e-7,4e-7,5e-7,6e-7,7e-7,8e-7,9e-7,1e-6,2e-6,3e-6,4e-6,5e-6,6e-6,7e-6,8e-6,9e-6,1e-5,2e-5,3e-5,4e-5,5e-5,6e-5,7e-5,8e-5,9e-5,1e-4,2e-4,3e-4,4e-4,5e-4,6e-4,7e-4,8e-4,9e-4,1e-3,2e-3,3e-3,4e-3],
    "labels":false,"title":null,"grid":false,"domainColor":"#111","domainWidth":1.5,"tickColor":"#111","tickWidth":1.2,
    "tickSize":{"condition":{"test":"abs(log(datum.value)/LN10 - round(log(datum.value)/LN10)) < 0.01","value":-7},"value":-4}}},
  "y":{"field":"V","type":"quantitative","scale":{"domain":[0,0.08],"nice":false},
   "axis":{"orient":"right","values":[0,0.01,0.02,0.03,0.04,0.05,0.06,0.07,0.08],"labels":false,"title":null,"grid":false,"domainColor":"#111","domainWidth":1.5,"tickColor":"#111","tickWidth":1.2,
    "tickSize":{"condition":{"test":"round(datum.value*100)%2==0","value":-7},"value":-4}}},
  "detail":{"field":"seg"}}},
{"data":{"name":"curves"},"mark":{"type":"line","strokeWidth":2.3},
 "encoding":{
  "x":{"field":"t","type":"quantitative","scale":{"type":"log","domain":[5e-9,5e-3],"nice":false},
   "axis":{"orient":"bottom","values":[6e-9,7e-9,8e-9,9e-9,1e-8,2e-8,3e-8,4e-8,5e-8,6e-8,7e-8,8e-8,9e-8,1e-7,2e-7,3e-7,4e-7,5e-7,6e-7,7e-7,8e-7,9e-7,1e-6,2e-6,3e-6,4e-6,5e-6,6e-6,7e-6,8e-6,9e-6,1e-5,2e-5,3e-5,4e-5,5e-5,6e-5,7e-5,8e-5,9e-5,1e-4,2e-4,3e-4,4e-4,5e-4,6e-4,7e-4,8e-4,9e-4,1e-3,2e-3,3e-3,4e-3],
    "labelExpr":"abs(log(datum.value)/LN10 - round(log(datum.value)/LN10)) < 0.01 ? ['10⁻⁹','10⁻⁸','10⁻⁷','10⁻⁶','10⁻⁵','10⁻⁴','10⁻³'][round(log(datum.value)/LN10)+9] : ''",
    "labelFontSize":24,"labelFontWeight":"bold","labelColor":"#111","labelPadding":21,"labelOverlap":false,"labelFlush":false,"labelBound":false,
    "grid":false,"domainColor":"#111","domainWidth":1.5,"tickColor":"#111","tickWidth":1.2,
    "tickSize":{"condition":{"test":"abs(log(datum.value)/LN10 - round(log(datum.value)/LN10)) < 0.01","value":-7},"value":-4},
    "title":"Time [s]","titleFontSize":33,"titleFontWeight":"bold","titleColor":"#111","titleX":207,"titleY":55,"titleBaseline":"middle","titleAlign":"center"}},
  "y":{"field":"V","type":"quantitative","scale":{"domain":[0,0.08],"nice":false},
   "axis":{"orient":"left","values":[0,0.01,0.02,0.03,0.04,0.05,0.06,0.07,0.08],
    "labelExpr":"round(datum.value*100)%2==0 ? format(datum.value,'.2f') : ''",
    "labelFontSize":27,"labelFontWeight":"bold","labelColor":"#111","labelPadding":15,"labelOverlap":false,"labelFlush":false,"labelBound":false,
    "grid":false,"domainColor":"#111","domainWidth":1.5,"tickColor":"#111","tickWidth":1.2,
    "tickSize":{"condition":{"test":"round(datum.value*100)%2==0","value":-7},"value":-4},
    "title":"Voltage [V]","titleFontSize":35,"titleFontWeight":"bold","titleColor":"#111","titleX":-87,"titleY":179,"titleBaseline":"middle","titleAlign":"center","titleAngle":-90}},
  "color":{"field":"R","type":"nominal","sort":["1e6","5e5","2e5","1e5","5e4","2e4","1e4","5e3","2e3","1e3","5e2","2e2","1e2","5e1","2e1","1e1","1e0"],
   "scale":{"range":["#ee1d23","#f48b8c","#f6801f","#6abd44","#57b331","#8b1d4d","#4ec3c8","#2d2d8f","#8b8c1f","#8c8c8c","#8b3b3c","#a1d164","#2b7b7a","#a9dcdf","#d88cc1","#7d1f7e","#6a4bb0"]},
   "legend":{"orient":"none","legendX":445,"legendY":-49,"title":["","R [Ω]"],"titleFontSize":30,"titleFontWeight":"bold","titleLineHeight":12,"titleColor":"#111","titlePadding":14,
    "labelFontSize":15,"labelColor":"#111","labelOffset":20,"symbolType":"M-4,0H4","symbolSize":100,"symbolOffset":15,"symbolStrokeWidth":2.5,"rowPadding":5,"padding":5,"strokeColor":"#555"}}}},
{"data":{"name":"arrows"},"mark":{"type":"line","stroke":"#1a1a1a","strokeWidth":2},
 "encoding":{"x":{"field":"t","type":"quantitative","axis":null},"y":{"field":"V","type":"quantitative","axis":null},"detail":{"field":"id"}}},
{"data":{"name":"headsV"},"mark":{"type":"point","shape":"M0,0L-0.45,-1.8L0.45,-1.8Z","size":125,"filled":true,"fill":"#1a1a1a","stroke":null,"opacity":1},
 "encoding":{"x":{"field":"t","type":"quantitative","axis":null},"y":{"field":"V","type":"quantitative","axis":null}}},
{"data":{"name":"headD"},"mark":{"type":"point","shape":"M0,0L-2,-0.7L-2,0.7Z","size":196,"angle":-34,"filled":true,"fill":"#1a1a1a","stroke":null,"opacity":1},
 "encoding":{"x":{"field":"t","type":"quantitative","axis":null},"y":{"field":"V","type":"quantitative","axis":null}}},
{"data":{"name":"markers"},"mark":{"type":"point","size":120,"filled":false,"color":"#111","strokeWidth":1.6,"opacity":1},
 "encoding":{"x":{"field":"t","type":"quantitative","axis":null},"y":{"field":"V","type":"quantitative","axis":null},
  "shape":{"field":"R","type":"nominal","scale":{"domain":["1e6","5e5","2e5","1e5","5e4","2e4","1e4","5e3","2e3","1e3","5e2","2e2","1e2","5e1","2e1","1e1","1e0"],
   "range":["circle","square","diamond","square","circle","M-0.15,-1H0.15V1H-0.15Z","M0,-1V1M-1,0H1M-0.7,-0.7L0.7,0.7M-0.7,0.7L0.7,-0.7","M-0.8,-0.8L0.8,0.8M-0.8,0.8L0.8,-0.8","M-1,0H1M0,-1V1","M0,-1L0.951,-0.309L0.588,0.809L-0.588,0.809L-0.951,-0.309Z","M0,-1L0.265,-0.364L0.951,-0.309L0.428,0.139L0.588,0.809L0,0.45L-0.588,0.809L-0.428,0.139L-0.951,-0.309L-0.265,-0.364Z","M0,-1L0.866,-0.5L0.866,0.5L0,1L-0.866,0.5L-0.866,-0.5Z","triangle-right","triangle-left","diamond","triangle-down","triangle-up"]},
   "legend":{"orient":"none","legendX":460,"legendY":-49,"title":["","R [Ω]"],"titleFontSize":30,"titleFontWeight":"bold","titleLineHeight":12,"titleOpacity":0,"titlePadding":14,
    "labelFontSize":15,"labelOpacity":0,"labelOffset":4,"symbolSize":110,"symbolStrokeColor":"#111","symbolStrokeWidth":1.6,"rowPadding":5,"padding":5}},
  "fill":{"field":"R","type":"nominal","scale":{"domain":["1e6","5e5","2e5","1e5","5e4","2e4","1e4","5e3","2e3","1e3","5e2","2e2","1e2","5e1","2e1","1e1","1e0"],
   "range":["#111","#111","#111","white","white","#111","#111","#111","#111","white","white","white","white","white","white","white","white"]},
   "legend":{"orient":"none","legendX":460,"legendY":-49,"title":["","R [Ω]"],"titleFontSize":30,"titleFontWeight":"bold","titleLineHeight":12,"titleOpacity":0,"titlePadding":14,
    "labelFontSize":15,"labelOpacity":0,"labelOffset":4,"symbolSize":110,"symbolStrokeColor":"#111","symbolStrokeWidth":1.6,"rowPadding":5,"padding":5}}}},
{"data":{"name":"mean"},"mark":{"type":"text","font":"Liberation Sans","fontSize":18,"fontWeight":"bold","fontStyle":"italic","align":"center","baseline":"alphabetic","color":"#111"},
 "encoding":{"x":{"field":"t","type":"quantitative","axis":null},"y":{"field":"V","type":"quantitative","axis":null},"text":{"field":"s"}}},
{"data":{"name":"tt"},"mark":{"type":"text","font":"Liberation Sans","fontSize":23,"fontWeight":"bold","fontStyle":"italic","align":"center","baseline":"alphabetic","color":"#111"},
 "encoding":{"x":{"field":"t","type":"quantitative","axis":null},"y":{"field":"V","type":"quantitative","axis":null},"text":{"field":"s"}}},
{"data":{"name":"small"},"mark":{"type":"text","font":"Liberation Sans","fontSize":12,"fontWeight":"bold","fontStyle":"italic","align":"center","baseline":"alphabetic","color":"#111"},
 "encoding":{"x":{"field":"t","type":"quantitative","axis":null},"y":{"field":"V","type":"quantitative","axis":null},"text":{"field":"s"}}},
{"data":{"name":"note"},"mark":{"type":"text","font":"Liberation Sans","fontSize":17,"align":"center","baseline":"alphabetic","color":"#222"},
 "encoding":{"x":{"field":"t","type":"quantitative","axis":null},"y":{"field":"V","type":"quantitative","axis":null},"text":{"field":"s"}}}
],
"resolve":{"axis":{"x":"independent","y":"independent"}}
}
